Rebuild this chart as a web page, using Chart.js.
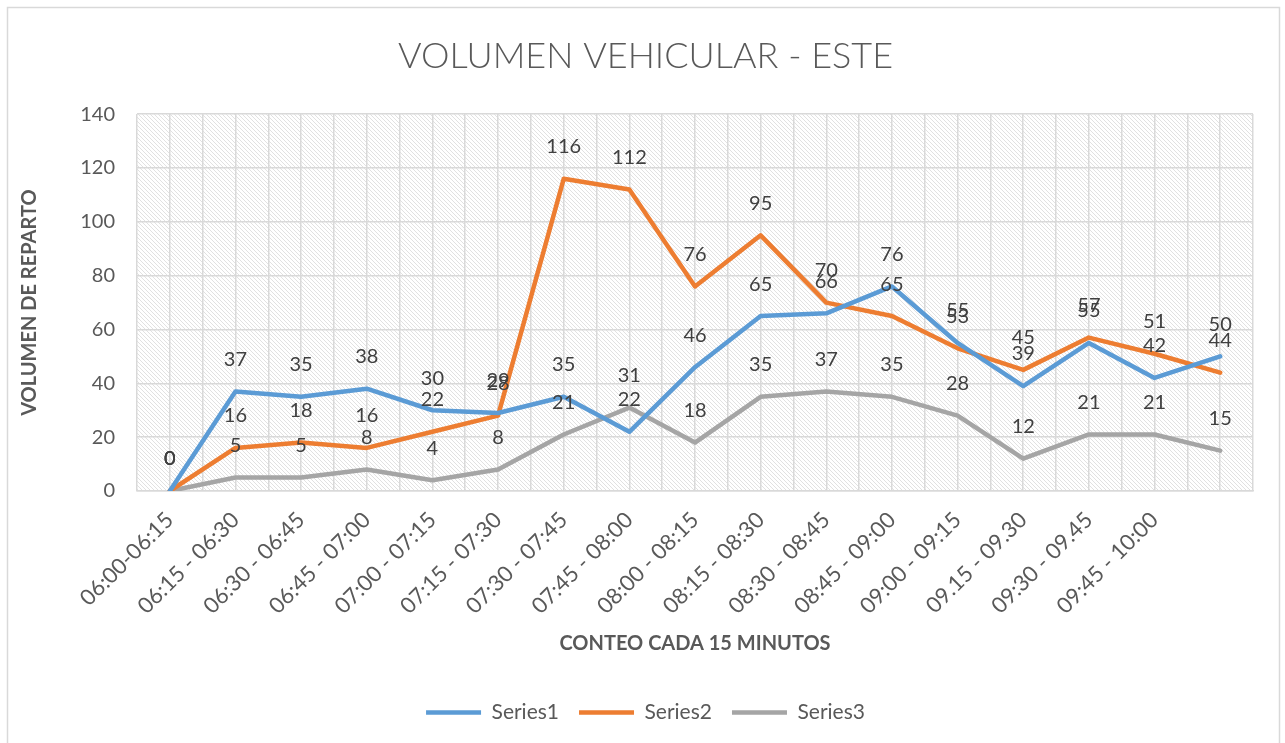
<!DOCTYPE html>
<html>
<head>
<meta charset="utf-8">
<script src="https://cdn.jsdelivr.net/npm/chart.js@4.4.0/dist/chart.umd.min.js"></script>
<style>
  html, body { margin: 0; padding: 0; background: #fff; }
  #wrap { position: relative; width: 1285px; height: 743px; }
</style>
</head>
<body>
<div id="wrap"><canvas id="chart" width="1285" height="743"></canvas></div>
<script>
// conteo cada 15 minutos (last slot has no label)
var labels = ['06:00-06:15', '06:15 - 06:30', '06:30 - 06:45', '06:45 - 07:00', '07:00 - 07:15',
  '07:15 - 07:30', '07:30 - 07:45', '07:45 - 08:00', '08:00 - 08:15', '08:15 - 08:30',
  '08:30 - 08:45', '08:45 - 09:00', '09:00 - 09:15', '09.15 - 09.30', '09:30 - 09.45',
  '09:45 - 10:00', ''];
var series1 = [0, 37, 35, 38, 30, 29, 35, 22, 46, 65, 66, 76, 55, 39, 55, 42, 50];
var series2 = [0, 16, 18, 16, 22, 28, 116, 112, 76, 95, 70, 65, 53, 45, 57, 51, 44];
var series3 = [0, 5, 5, 8, 4, 8, 21, 31, 18, 35, 37, 35, 28, 12, 21, 21, 15];
var yTicks = [0, 20, 40, 60, 80, 100, 120, 140];

var FONT = 'Lato, "Open Sans", sans-serif';
var TXT = '#595959';
var GRID = '#d9d9d9';

// diagonal hatch for the plot background
function hatch() {
  var c = document.createElement('canvas');
  c.width = 4; c.height = 4;
  var g = c.getContext('2d');
  g.fillStyle = '#ffffff';
  g.fillRect(0, 0, 4, 4);
  g.strokeStyle = '#dedede';
  g.lineWidth = 0.9;
  for (var k = -1; k <= 1; k++) {
    g.beginPath();
    g.moveTo(k * 4 - 1, -1);
    g.lineTo(k * 4 + 5, 5);
    g.stroke();
  }
  return g.createPattern(c, 'repeat');
}

var background = {
  id: 'background',
  afterLayout: function (chart) {
    // title and legend are centred on the whole frame, not the padded area
    [chart.titleBlock, chart.legend].forEach(function (b) {
      if (b) { b.left += 14; b.right += 14; }
    });
  },
  beforeDraw: function (chart) {
    var ctx = chart.ctx, a = chart.chartArea;
    ctx.save();
    ctx.fillStyle = '#fff';
    ctx.fillRect(0, 0, chart.width, chart.height);
    ctx.strokeStyle = GRID;
    ctx.lineWidth = 1.5;
    ctx.strokeRect(7.5, 7.5, chart.width - 13, chart.height);
    ctx.fillStyle = hatch();
    ctx.fillRect(a.left, a.top, a.right - a.left, a.bottom - a.top);
    ctx.restore();
  }
};

// value labels above every point
var valueLabels = {
  id: 'valueLabels',
  afterDatasetsDraw: function (chart) {
    var ctx = chart.ctx;
    ctx.save();
    ctx.font = '20px ' + FONT;
    ctx.fillStyle = '#404040';
    ctx.textAlign = 'center';
    ctx.textBaseline = 'middle';
    chart.data.datasets.forEach(function (ds, i) {
      chart.getDatasetMeta(i).data.forEach(function (pt, j) {
        ctx.fillText(String(ds.data[j]), pt.x, pt.y - 32);
      });
    });
    ctx.restore();
  }
};

function line(label, data, color) {
  return {
    label: label, data: data,
    borderColor: color, backgroundColor: color,
    borderWidth: 4.5, pointRadius: 0, tension: 0,
    borderJoinStyle: 'round', borderCapStyle: 'round'
  };
}

new Chart(document.getElementById('chart'), {
  type: 'line',
  data: {
    labels: labels,
    datasets: [
      line('Series1', series1, '#5b9bd5'),
      line('Series2', series2, '#ed7d31'),
      line('Series3', series3, '#a5a5a5')
    ]
  },
  plugins: [background, valueLabels],
  options: {
    responsive: false,
    animation: false,
    layout: { padding: { left: 10, right: 32, top: 0, bottom: 10 } },
    plugins: {
      tooltip: { enabled: false },
      title: {
        display: true,
        text: 'VOLUMEN VEHICULAR - ESTE',
        color: TXT,
        font: { family: FONT, size: 36, weight: '300' },
        padding: { top: 35, bottom: 36 }
      },
      legend: {
        position: 'bottom',
        labels: {
          color: TXT,
          font: { family: FONT, size: 21 },
          usePointStyle: true,
          pointStyle: 'line',
          pointStyleWidth: 55,
          padding: 20
        }
      }
    },
    scales: {
      x: {
        offset: true,
        grid: { display: false },
        border: { color: GRID, width: 1.5 },
        ticks: {
          color: TXT, font: { family: FONT, size: 22 },
          minRotation: 45, maxRotation: 45, autoSkip: false, padding: 8
        },
        title: {
          display: true, text: 'CONTEO CADA 15 MINUTOS', color: TXT,
          font: { family: FONT, size: 20, weight: 'bold' }, padding: { top: 10, bottom: 26 }
        },
        afterFit: function (s) { s.height = 191; }
      },
      xGrid: {
        type: 'linear', position: 'top',
        min: -0.5, max: labels.length - 0.5,
        grid: { color: GRID, lineWidth: 1.5, drawTicks: false },
        border: { display: false },
        ticks: { display: false, stepSize: 0.5 },
        afterFit: function (s) { s.height = 0; }
      },
      y: {
        min: 0, max: 140,
        grid: { color: GRID, lineWidth: 1.5, drawTicks: false },
        border: { display: false },
        afterBuildTicks: function (s) { s.ticks = yTicks.map(function (v) { return { value: v }; }); },
        ticks: { color: TXT, font: { family: FONT, size: 20 }, padding: 22 },
        title: {
          display: true, text: 'VOLUMEN DE REPARTO', color: TXT,
          font: { family: FONT, size: 20, weight: 'bold' }, padding: { top: 8, bottom: 0 }
        },
        afterFit: function (s) { s.width = 127; }
      }
    }
  }
});
</script>
</body>
</html>
